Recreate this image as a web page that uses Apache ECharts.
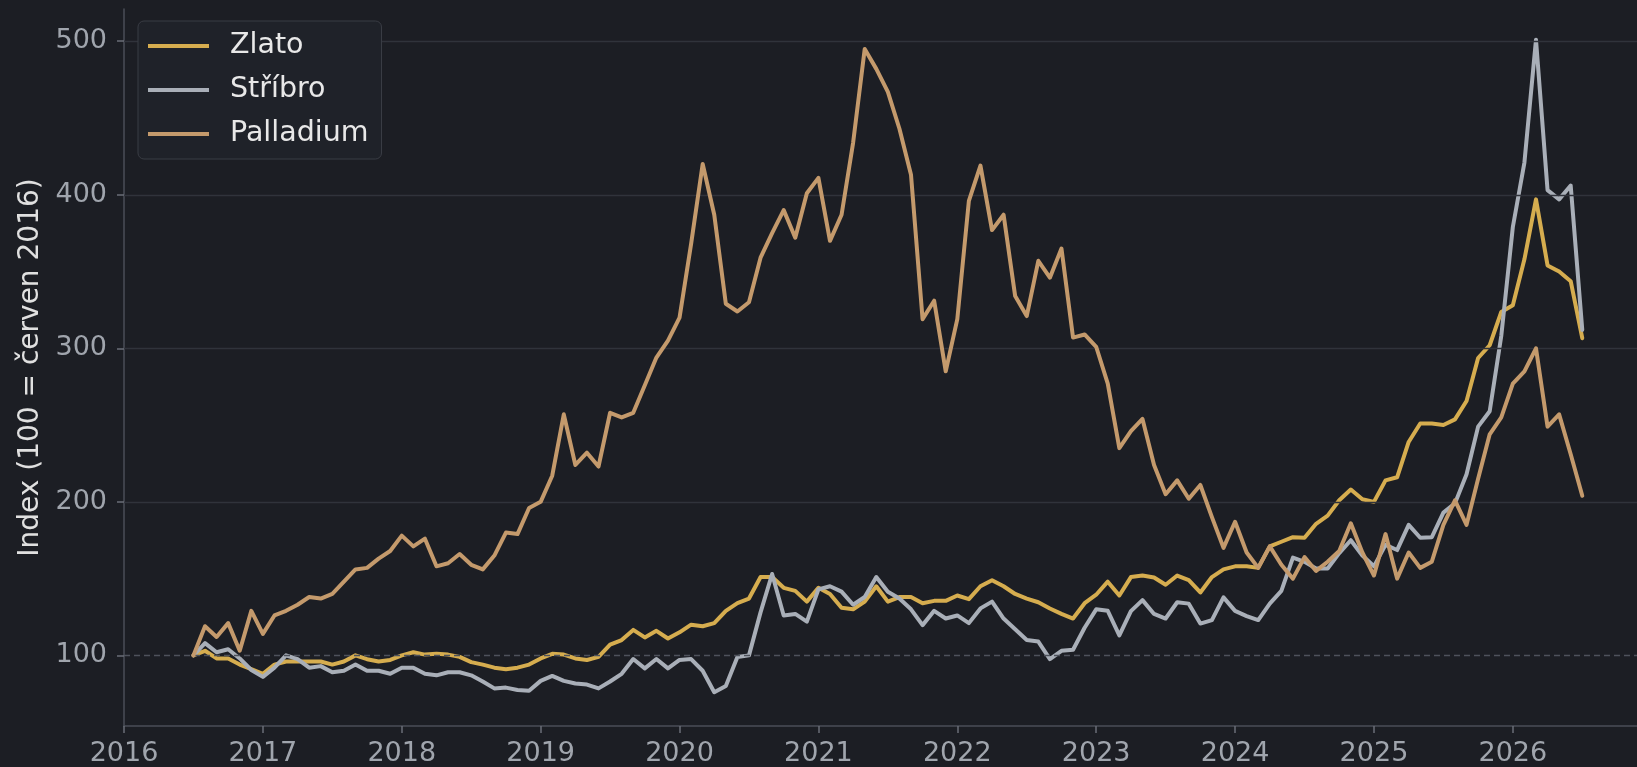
<!DOCTYPE html>
<html>
<head>
<meta charset="utf-8">
<script src="https://cdn.jsdelivr.net/npm/echarts@6/dist/echarts.min.js"></script>
<style>
  html, body { margin: 0; padding: 0; background: #1c1e24; }
  #chart { width: 1637px; height: 767px; }
</style>
</head>
<body>
<div id="chart"></div>
<script>
// monthly index, 100 = June 2016 (month-end points, Jun 2016 .. Jun 2026)
const startYear = 2016;
const startMonth = 6;
const monthCount = 121;

const gold = [
  100, 103, 98, 98, 94, 91, 88, 94, 96, 96, 96, 96, 94, 96, 100, 97.5, 96, 97, 100, 102,
  100.5, 101, 100.5, 99, 95.6, 94, 92, 91, 92, 94, 98, 101, 100.5, 98, 97, 99, 107, 110, 116.6, 111.7,
  116, 111, 115, 120, 119, 121, 129, 134, 137, 151, 151, 144, 142, 135, 144, 140, 131, 130, 135, 145,
  135, 138, 138, 134, 135.5, 135.5, 139, 136.6, 145, 149, 145, 140, 137, 134.6, 130.5, 127, 124, 134, 139.5, 148,
  139, 151, 152, 150.7, 146, 152, 149, 141, 151, 156, 158, 158, 157, 171, 174, 177, 176.6, 185.7, 191, 201,
  208, 201.7, 200, 214, 216, 239, 251, 251, 250, 253.7, 265.7, 293.7, 302, 323.7, 328, 358, 397, 354, 350, 343.7,
  306.6
];

const silver = [
  100, 108, 102, 104, 98, 90.5, 86, 92, 100, 97.5, 92, 93, 89, 90, 94, 90, 90, 88, 92, 92,
  88, 87, 89, 89, 87, 83, 78.5, 79, 77.5, 77, 83.4, 86.6, 83.4, 81.7, 81, 78.5, 83, 88, 97.6, 91.5,
  97.6, 91.5, 97, 97.6, 90, 76, 80, 99, 100, 128, 153, 126, 127, 122, 143, 145, 141.5, 133, 138, 151,
  141.5, 137, 130, 119.7, 129, 124, 126, 121, 130.6, 135, 124, 117, 110, 109, 97.6, 103, 103.7, 118, 130, 129,
  113, 128.8, 136, 127, 124, 134.6, 133.7, 120.7, 123, 137.8, 129, 125.6, 123, 133.7, 142, 163.7, 160.9, 156.6, 156.6, 166.6,
  175, 165, 158, 172, 168.6, 185, 176.6, 177, 193, 199, 218, 249, 259, 308, 379, 421, 501, 403, 397, 406,
  312
];

const palladium = [
  100, 119, 112, 121, 103, 129, 114, 126, 129, 133, 138, 137, 140, 148, 156, 157, 163, 168, 178, 171,
  176, 158, 160, 166, 159, 156, 165, 180, 179, 196, 200, 217, 257, 224, 232, 223, 258, 255, 258, 276,
  294, 305, 320, 368, 420, 387, 329, 324, 330, 359, 375, 390, 372, 401, 411, 370, 387, 434, 495, 482,
  467, 443, 413, 319, 331, 285, 319, 396, 419, 377, 387, 334, 321, 357, 346, 365, 307, 309, 301, 277,
  235, 246, 254, 224, 205, 214, 202, 211, 190, 170, 187, 167, 157, 171, 159, 150, 164, 155, 161, 168,
  186, 167, 152, 179, 150, 167, 157, 161, 185, 201, 185, 215, 244, 255, 277, 285, 300, 249, 257, 231,
  204
];

const yearTicks = [2016, 2017, 2018, 2019, 2020, 2021, 2022, 2023, 2024, 2025, 2026];
const yTicks = [100, 200, 300, 400, 500];

// month-end positions as decimal years
const months = [];
for (let i = 0; i < monthCount; i++) {
  const m = startMonth - 1 + i;
  months.push(startYear + Math.floor(m / 12) + ((m % 12) + 1) / 12);
}

const pairs = vals => months.map((x, i) => [x, vals[i]]);

const chart = echarts.init(document.getElementById('chart'));

const lineSeries = (name, vals, color, z) => ({
  name: name,
  type: 'line',
  data: pairs(vals),
  showSymbol: false,
  symbol: 'none',
  color: color,
  lineStyle: { width: 4, color: color, join: 'round', cap: 'round' },
  z: z,
  silent: true,
  animation: false
});

chart.setOption({
  backgroundColor: '#1c1e24',
  animation: false,
  textStyle: { fontFamily: 'DejaVu Sans' },
  grid: { left: 124, right: 0, top: 9, bottom: 39, containLabel: false },
  legend: {
    data: ['Zlato', 'Stříbro', 'Palladium'],
    orient: 'vertical',
    left: 138,
    top: 21,
    z: 20,
    icon: 'rect',
    itemWidth: 61,
    itemHeight: 4,
    itemGap: 14,
    padding: [10, 13, 10, 10],
    backgroundColor: '#1f2229',
    borderColor: '#393c44',
    borderWidth: 1,
    borderRadius: 6,
    textStyle: {
      color: '#e8e8e8',
      fontSize: 28.5,
      lineHeight: 30,
      fontFamily: 'DejaVu Sans',
      padding: [0, 0, 0, 16]
    }
  },
  xAxis: {
    type: 'value',
    min: 2016,
    max: 2026.894,
    splitLine: { show: false },
    axisLine: { show: true, onZero: false, lineStyle: { color: '#4a4e57', width: 1.5 } },
    axisTick: { show: true, length: 7, customValues: yearTicks, lineStyle: { color: '#6a6e77', width: 1.5 } },
    axisLabel: {
      customValues: yearTicks,
      color: '#a0a5ad',
      fontSize: 27,
      margin: 14,
      fontFamily: 'DejaVu Sans',
      formatter: v => String(Math.round(v))
    }
  },
  yAxis: {
    type: 'value',
    min: 54,
    max: 521,
    name: 'Index (100 = červen 2016)',
    nameLocation: 'middle',
    nameRotate: 90,
    nameGap: 79,
    nameTextStyle: { color: '#e0e0e0', fontSize: 28, fontFamily: 'DejaVu Sans' },
    splitLine: { show: false },
    axisLine: { show: true, onZero: false, lineStyle: { color: '#4a4e57', width: 1.5 } },
    axisTick: { show: true, length: 7, customValues: yTicks, lineStyle: { color: '#6a6e77', width: 1.5 } },
    axisLabel: {
      customValues: yTicks,
      color: '#a0a5ad',
      fontSize: 27,
      margin: 17,
      fontFamily: 'DejaVu Sans',
      formatter: v => String(Math.round(v))
    }
  },
  series: [
    {
      name: 'grid',
      type: 'line',
      data: [],
      silent: true,
      z: 1,
      markLine: {
        silent: true,
        symbol: 'none',
        animation: false,
        label: { show: false },
        data: yTicks.map(v => ({
          yAxis: v,
          lineStyle: v === 100
            ? { color: '#4e525b', width: 1.3, type: [6, 4] }
            : { color: '#30333b', width: 1.3, type: 'solid' }
        }))
      }
    },
    lineSeries('Zlato', gold, '#d6ad4f', 3),
    lineSeries('Stříbro', silver, '#a9afb8', 4),
    lineSeries('Palladium', palladium, '#c49a6c', 5)
  ]
});
</script>
</body>
</html>
